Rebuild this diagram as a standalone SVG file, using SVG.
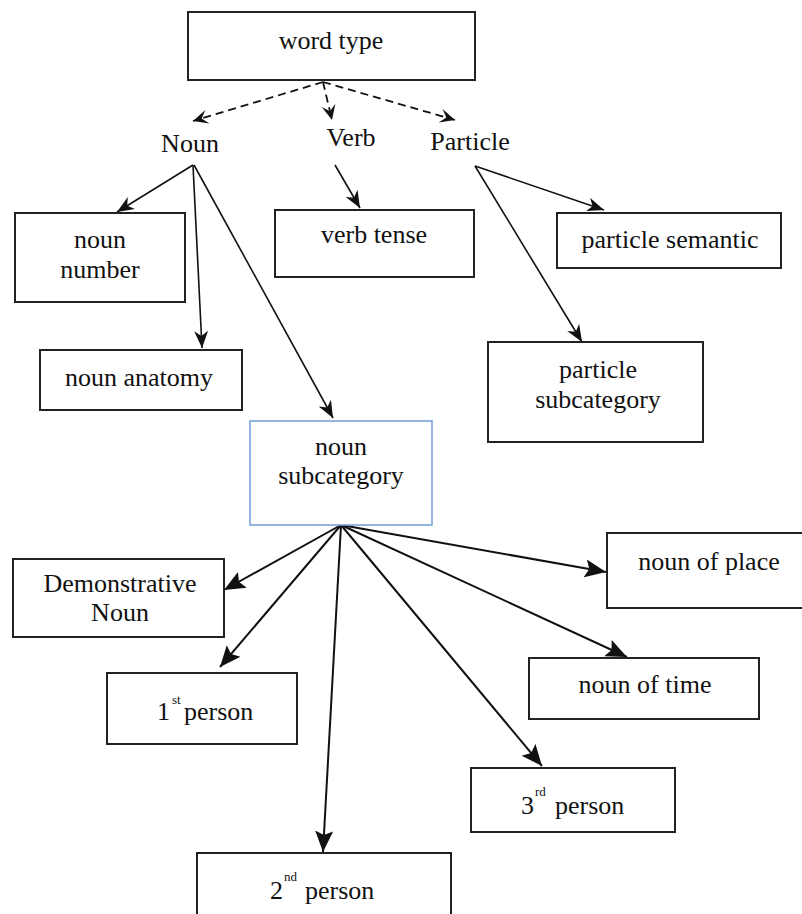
<svg xmlns="http://www.w3.org/2000/svg" width="802" height="914" viewBox="0 0 802 914">
<style>
.box{fill:#fff;stroke:#222;stroke-width:2}
.blue{fill:#fff;stroke:#7aa3da;stroke-width:1.6}
.t{font-size:26px;text-anchor:middle}
.ts{font-size:26px}
.sup{font-size:13px}
.c{stroke:#111;stroke-width:1.6;fill:none}
.c2{stroke:#111;stroke-width:2;fill:none}
.d{stroke:#111;stroke-width:1.8;fill:none;stroke-dasharray:8,5}
</style>
<defs>
<marker id="big" markerUnits="userSpaceOnUse" markerWidth="22" markerHeight="20" refX="21" refY="10" orient="auto">
<path d="M0,1 L21,10 L0,19 L4,10 z" fill="#111"/>
</marker>
<marker id="sm" markerUnits="userSpaceOnUse" markerWidth="18" markerHeight="14" refX="17" refY="7" orient="auto">
<path d="M0,0 L17,7 L0,14 L5,7 z" fill="#111"/>
</marker>
<marker id="op" markerUnits="userSpaceOnUse" markerWidth="18" markerHeight="16" refX="16" refY="8" orient="auto">
<path d="M1,1 L16,8 L1,15 L7,8 z" fill="#111"/>
</marker>
</defs>
<rect width="802" height="914" fill="#fff"/>
<g id="connectors">
<line class="d" x1="323" y1="82" x2="193" y2="121" marker-end="url(#op)"/>
<line class="d" x1="323" y1="82" x2="332" y2="120" marker-end="url(#op)"/>
<line class="d" x1="323" y1="82" x2="455" y2="120" marker-end="url(#op)"/>
<line class="c" x1="193" y1="165" x2="117" y2="212" marker-end="url(#sm)"/>
<line class="c" x1="193" y1="165" x2="202" y2="348" marker-end="url(#sm)"/>
<line class="c" x1="194" y1="165" x2="333" y2="418" marker-end="url(#sm)"/>
<line class="c" x1="335" y1="165" x2="360" y2="208" marker-end="url(#sm)"/>
<line class="c" x1="475" y1="166" x2="604" y2="210" marker-end="url(#sm)"/>
<line class="c" x1="475" y1="166" x2="582" y2="342" marker-end="url(#sm)"/>
<line class="c2" x1="341" y1="525" x2="224" y2="590" marker-end="url(#big)"/>
<line class="c2" x1="341" y1="525" x2="220" y2="667" marker-end="url(#big)"/>
<line class="c2" x1="341" y1="525" x2="323" y2="852" marker-end="url(#big)"/>
<line class="c2" x1="341" y1="525" x2="542" y2="766" marker-end="url(#big)"/>
<line class="c2" x1="341" y1="525" x2="627" y2="657" marker-end="url(#big)"/>
<line class="c2" x1="341" y1="525" x2="606" y2="572" marker-end="url(#big)"/>
</g>
<g font-family="Liberation Serif, DejaVu Serif, serif" fill="#111">
<g id="word-type"><rect class="box" x="188" y="12" width="287" height="68"/><text class="t" x="331" y="49">word type</text></g>
<g id="noun"><text class="t" x="190" y="152">Noun</text></g>
<g id="verb"><text class="t" x="351" y="146">Verb</text></g>
<g id="particle"><text class="t" x="470" y="150">Particle</text></g>
<g id="noun-number"><rect class="box" x="15" y="213" width="170" height="89"/><text class="t" x="100" y="248">noun</text><text class="t" x="100" y="278">number</text></g>
<g id="noun-anatomy"><rect class="box" x="40" y="350" width="202" height="60"/><text class="t" x="139" y="386">noun anatomy</text></g>
<g id="verb-tense"><rect class="box" x="275" y="210" width="199" height="67"/><text class="t" x="374" y="243">verb tense</text></g>
<g id="particle-semantic"><rect class="box" x="557" y="213" width="224" height="55"/><text class="t" x="670" y="248">particle semantic</text></g>
<g id="particle-subcategory"><rect class="box" x="488" y="342" width="215" height="100"/><text class="t" x="598" y="378">particle</text><text class="t" x="598" y="408">subcategory</text></g>
<g id="noun-subcategory"><rect class="blue" x="250" y="421" width="182" height="104"/><text class="t" x="341" y="455">noun</text><text class="t" x="341" y="484">subcategory</text></g>
<g id="demonstrative-noun"><rect class="box" x="13" y="559" width="211" height="78"/><text class="t" x="120" y="592">Demonstrative</text><text class="t" x="120" y="621">Noun</text></g>
<g id="first-person"><rect class="box" x="107" y="673" width="190" height="71"/><text class="ts" x="157" y="720">1</text><text class="sup" x="172" y="704">st</text><text class="ts" x="184" y="720">person</text></g>
<g id="second-person"><rect class="box" x="197" y="853" width="254" height="70"/><text class="ts" x="270" y="899">2</text><text class="sup" x="284" y="881">nd</text><text class="ts" x="305" y="899">person</text></g>
<g id="third-person"><rect class="box" x="471" y="768" width="204" height="64"/><text class="ts" x="521" y="814">3</text><text class="sup" x="535" y="796">rd</text><text class="ts" x="555" y="814">person</text></g>
<g id="noun-of-time"><rect class="box" x="529" y="658" width="230" height="61"/><text class="t" x="645" y="693">noun of time</text></g>
<g id="noun-of-place"><rect class="box" x="607" y="533" width="200" height="75"/><text class="t" x="709" y="570">noun of place</text></g>
</g>
</svg>
